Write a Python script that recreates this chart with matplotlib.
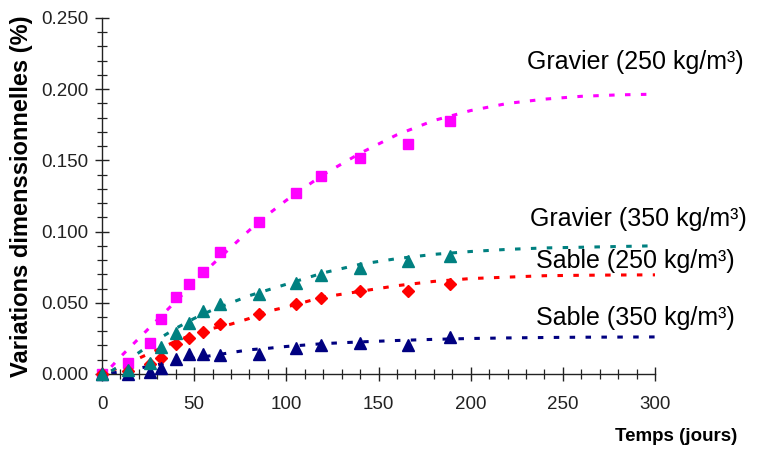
import matplotlib
matplotlib.use("Agg")
import matplotlib.pyplot as plt
from matplotlib.ticker import MultipleLocator, FormatStrFormatter

plt.rcParams['font.family'] = ['Liberation Sans', 'DejaVu Sans']

# Measured points (days, %)
t_pts = [0, 14, 26, 32, 40, 47, 55, 64, 85, 105, 119, 140, 166, 189]
grav250 = [0.000, 0.008, 0.022, 0.0386, 0.054, 0.063, 0.0716, 0.0857, 0.107, 0.127, 0.139, 0.152, 0.1615, 0.1776]
grav350 = [0.000, 0.003, 0.0077, 0.019, 0.029, 0.036, 0.044, 0.049, 0.056, 0.064, 0.0695, 0.0744, 0.0794, 0.083]
sable250 = [0.000, 0.002, 0.007, 0.011, 0.021, 0.025, 0.0295, 0.035, 0.042, 0.049, 0.0535, 0.058, 0.058, 0.063]
sable350 = [0.000, 0.000, 0.0014, 0.004, 0.0105, 0.014, 0.014, 0.0133, 0.014, 0.018, 0.020, 0.0218, 0.020, 0.026]

# Fitted trend curves
t_fit = [5, 10, 20, 30, 40, 50, 60, 70, 80, 90, 100, 120, 140, 160, 180, 200, 220, 240, 260, 280, 300]
fit_g250 = [0.005, 0.012, 0.025, 0.038, 0.051, 0.064, 0.077, 0.089, 0.101, 0.112, 0.122, 0.140, 0.155, 0.168, 0.178, 0.185, 0.190, 0.193, 0.195, 0.196, 0.1965]
fit_g350 = [0.002, 0.006, 0.015, 0.024, 0.032, 0.039, 0.045, 0.050, 0.055, 0.059, 0.063, 0.071, 0.077, 0.081, 0.084, 0.086, 0.0875, 0.0885, 0.089, 0.0895, 0.090]
fit_s250 = [0.002, 0.005, 0.011, 0.017, 0.023, 0.028, 0.032, 0.035, 0.039, 0.044, 0.047, 0.054, 0.058, 0.062, 0.065, 0.067, 0.068, 0.069, 0.0693, 0.0695, 0.0696]
fit_s350 = [0.0005, 0.0015, 0.004, 0.0065, 0.009, 0.011, 0.013, 0.015, 0.017, 0.018, 0.0193, 0.0213, 0.0225, 0.0235, 0.0243, 0.0249, 0.0253, 0.0256, 0.0258, 0.0259, 0.026]

labels = ["Gravier (250 kg/m³)", "Gravier (350 kg/m³)", "Sable (250 kg/m³)", "Sable (350 kg/m³)"]

fig = plt.figure(figsize=(7.63, 4.5), dpi=100)
ax = fig.add_axes([0.1337, 0.169, 0.7248, 0.791])

c_mag, c_teal, c_red, c_navy = '#FF00FF', '#008080', '#FF0000', '#000080'
dash = (1.8, 3.4)
lw = 2.2

for tf, yf, c in [(t_fit, fit_g250, c_mag), (t_fit, fit_s250, c_red),
                  (t_fit, fit_s350, c_navy), (t_fit, fit_g350, c_teal)]:
    ax.plot(tf, yf, color=c, lw=lw, linestyle=(0, dash), zorder=2)

ax.plot(t_pts, grav250, 's', color=c_mag, ms=7.5, mec=c_mag, zorder=3, clip_on=False)
ax.plot(t_pts, sable250, 'D', color=c_red, ms=6.5, mec=c_red, zorder=4, clip_on=False)
ax.plot(t_pts, sable350, '^', color=c_navy, ms=8, mec=c_navy, zorder=5, clip_on=False)
ax.plot(t_pts, grav350, '^', color=c_teal, ms=8, mec=c_teal, zorder=6, clip_on=False)

ax.set_xlim(0, 300)
ax.set_ylim(0, 0.25)
ax.xaxis.set_major_locator(MultipleLocator(50))
ax.xaxis.set_minor_locator(MultipleLocator(10))
ax.yaxis.set_major_locator(MultipleLocator(0.05))
ax.yaxis.set_minor_locator(MultipleLocator(0.01))
ax.yaxis.set_major_formatter(FormatStrFormatter('%.3f'))

for s in ['top', 'right']:
    ax.spines[s].set_visible(False)
for s in ['left', 'bottom']:
    ax.spines[s].set_linewidth(1.0)
    ax.spines[s].set_color('#222222')

ax.tick_params(which='major', direction='inout', length=10, width=1.0, labelsize=13.5, colors='#222222')
ax.tick_params(which='minor', direction='inout', length=7, width=0.9, colors='#222222')
ax.tick_params(axis='x', pad=11)
ax.tick_params(axis='y', pad=5)

ax.set_ylabel('Variations dimenssionnelles (%)', fontsize=17, fontweight='bold', labelpad=6)
fig.text(0.966, 0.03, 'Temps (jours)', fontsize=13.5, fontweight='bold', ha='right', va='center')

label_pos = [(230.6, 0.219), (232.2, 0.1085), (235.4, 0.079), (235.4, 0.0393)]
for (x, y), txt in zip(label_pos, labels):
    ax.text(x, y, txt, fontsize=18, ha='left', va='center', clip_on=False)

fig.savefig('out.png', dpi=100)
